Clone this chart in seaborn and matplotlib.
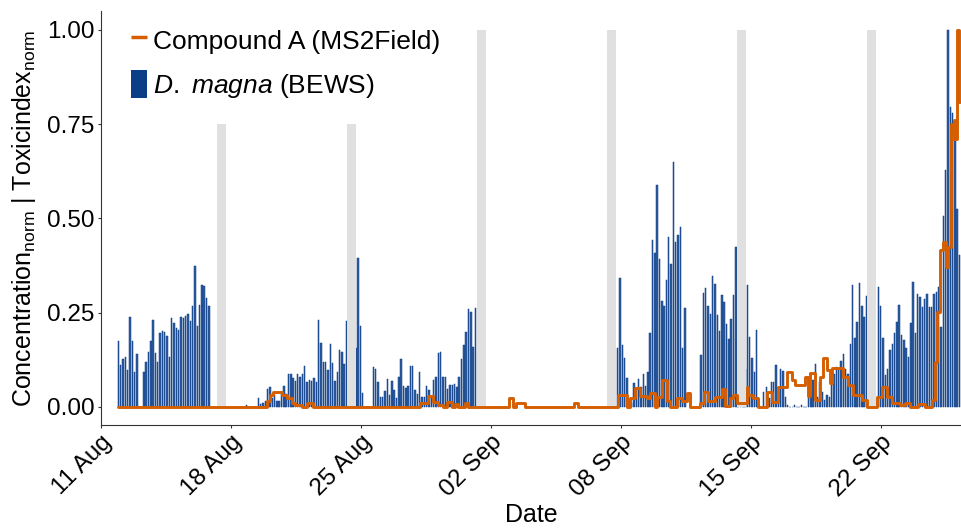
import numpy as np
import pandas as pd
import matplotlib
matplotlib.use("Agg")
import matplotlib.pyplot as plt
import seaborn as sns
from matplotlib.lines import Line2D
from matplotlib.patches import Patch

# ---------------- data (days since 11 Aug 00:00) ----------------
bar_step = 0.125  # 3-hourly BEWS toxicity index

segA_start = 0.948
segA_values = [0.174, 0.112, 0.127, 0.132, 0.098, 0.239, 0.174, 0.092, 0.140, 0, 0, 0.092, 0.120, 0.147,
               0.176, 0.231, 0.143, 0.118, 0.196, 0.202, 0.199, 0.187, 0.132, 0.235, 0.223, 0.209, 0.205,
               0.240, 0.236, 0.242, 0.246, 0.227, 0.269, 0.375, 0.215, 0.271, 0.324, 0.320, 0.289, 0.269]

segB_start = 7.862
segB_values = [0.005, 0, 0, 0, 0, 0.023, 0.007, 0.010, 0.016, 0.047, 0.054, 0.025, 0.032, 0.016, 0.016,
               0.038, 0.056, 0.034, 0.087, 0.087, 0.078, 0.070, 0.087, 0.080, 0.087, 0.109, 0.066, 0.071,
               0.069, 0.078, 0.066, 0.231, 0.169, 0.119, 0.119, 0.097, 0.167, 0.116, 0.069, 0.094, 0.150,
               0.145, 0.113, 0.229, 0, 0, 0, 0.156, 0.395, 0.215, 0.036]

segC_start = 14.680
segC_values = [0.107, 0.100, 0.066, 0.027, 0.027, 0.043, 0.073, 0.032, 0.070, 0.044, 0.024, 0.080, 0.128,
               0.056, 0.050, 0.056, 0.110, 0.110, 0.044, 0.034, 0.094, 0.027, 0.027, 0.056, 0.044, 0.027,
               0.071, 0.080, 0.143, 0.146, 0.080, 0.080, 0.048, 0.059, 0.057, 0.061, 0.053, 0.080, 0.128,
               0.164, 0.198, 0.260, 0.253, 0.160, 0.262]

segD1_start = 27.841
segD1_values = [0.156, 0.342, 0.165, 0.131, 0.078, 0.020, 0.010, 0.063, 0.045, 0.074, 0.054, 0.087, 0.056,
                0.093, 0.196, 0.444, 0.409, 0.588, 0.393, 0.280, 0.269, 0.338, 0.451, 0.380, 0.650, 0.437,
                0.457, 0.478, 0.156, 0.262]

segD2_start = 32.326
segD2_values = [0.138, 0.302, 0.316, 0.267, 0.246, 0.347, 0.326, 0.243, 0.202, 0.296, 0.278, 0.221, 0.181,
                0.233, 0.298, 0.425, 0, 0, 0, 0.100, 0.324, 0.185, 0.129, 0.094, 0.205, 0, 0, 0.041]

segE_start = 35.864
segE_values = [0.052, 0.023, 0.067, 0.067, 0.111, 0.041, 0.100, 0.095, 0.026, 0.005, 0, 0, 0.005, 0, 0,
               0.005, 0, 0, 0.026, 0.040, 0.071, 0.114, 0.026, 0.067, 0.040, 0.018, 0.031, 0.027, 0.082,
               0.088, 0.107, 0.102, 0.122, 0.141, 0.102, 0.088, 0.166, 0.324, 0.182, 0.226, 0.328, 0.268,
               0.240, 0.294]

segF_start = 41.874
segF_values = [0.319, 0.268, 0.182, 0.085, 0.100, 0.150, 0.166, 0.196, 0.226, 0.270, 0.191, 0.178, 0.156,
               0.133, 0.224, 0.332, 0.195, 0.300, 0.293, 0.266, 0.286, 0.300, 0.264, 0.264, 0.300, 0.305,
               0.319, 0.213, 0.507, 0.629, 1.000, 0.797, 0.779, 0.735, 0.524, 0.403]

compound_day = [0.932, 8.939, 9.117, 9.295, 9.747, 10.016, 10.285, 10.463, 10.824, 11.093, 11.449,
                17.194, 17.641, 17.910, 18.164, 18.433, 18.632, 18.901, 19.079, 19.257, 19.618, 19.795,
                22.003, 22.219, 22.364, 22.849, 25.503, 25.719, 27.873, 28.325, 28.503, 28.772, 29.042,
                29.402, 29.580, 29.849, 29.941, 30.242, 30.479, 30.657, 31.018, 31.287, 31.589, 31.734,
                32.273, 32.488, 32.720, 33.080, 33.441, 33.619, 33.888, 34.066, 34.281, 34.787, 34.873,
                35.143, 35.412, 35.864, 36.134, 36.489, 36.941, 37.211, 37.388, 37.927, 38.105, 38.196,
                38.465, 38.734, 38.912, 39.095, 39.273, 39.365, 39.989, 40.258, 40.528, 40.980, 41.249,
                41.788, 42.057, 42.326, 42.596, 43.043, 43.312, 43.581, 44.012, 44.389, 44.749, 44.927,
                45.051, 45.196, 45.374, 45.520, 45.643, 45.773, 45.869, 45.951, 46.031, 46.096, 46.220,
                46.290]
compound_value = [0, 0.016, 0.032, 0.041, 0.032, 0.023, 0.010, 0.004, 0, 0.010, 0,
                  0.010, 0.029, 0.012, 0.005, 0, 0.012, 0, 0.008, 0, 0.010, 0,
                  0.023, 0, 0.010, 0, 0.010, 0, 0.032, 0, 0.023, 0.050, 0.030,
                  0.023, 0.036, 0, 0.027, 0.072, 0.015, 0, 0.025, 0.015, 0.036, 0,
                  0.010, 0.041, 0.015, 0.027, 0.047, 0.003, 0.023, 0.032, 0.010, 0.054, 0.032,
                  0.023, 0, 0.041, 0.014, 0.054, 0.094, 0.072, 0.057, 0.080, 0.030, 0.089,
                  0.019, 0.080, 0.129, 0.098, 0.063, 0.103, 0.080, 0.058, 0.032, 0.019, 0,
                  0.027, 0.054, 0.027, 0.010, 0.004, 0.010, 0, 0.008, 0, 0.019, 0.120,
                  0.253, 0.416, 0.438, 0.372, 0.425, 0.750, 0.710, 0.760, 0.710, 1.000, 0.810,
                  0.810]

band_center_day = [6.5, 13.5, 20.5, 27.5, 34.5, 41.5]
band_height = [0.75, 0.75, 1.0, 1.0, 1.0, 1.0]
band_width_day = 0.5

tick_days = [0, 7, 14, 21, 28, 35, 42]
tick_labels = ["11 Aug", "18 Aug", "25 Aug", "02 Sep", "08 Sep", "15 Sep", "22 Sep"]
y_ticks = [0.0, 0.25, 0.5, 0.75, 1.0]

# ---------------- build tables ----------------
segments = [(segA_start, segA_values), (segB_start, segB_values), (segC_start, segC_values),
            (segD1_start, segD1_values), (segD2_start, segD2_values), (segE_start, segE_values),
            (segF_start, segF_values)]
bews = pd.concat([pd.DataFrame({"day": s + bar_step * np.arange(len(v)), "tox": v}) for s, v in segments],
                 ignore_index=True)
comp = pd.DataFrame({"day": compound_day, "conc": compound_value})

# ---------------- style ----------------
sns.set_theme(style="white")
plt.rcParams["font.family"] = ["Liberation Sans", "DejaVu Sans"]
plt.rcParams["text.color"] = "black"
plt.rcParams["mathtext.fontset"] = "custom"
plt.rcParams["mathtext.rm"] = "Liberation Sans"
plt.rcParams["mathtext.it"] = "Liberation Sans:italic"
plt.rcParams["mathtext.default"] = "regular"

ORANGE = "#D55E00"
BLUE_FILL = "#2f5d9f"
BLUE_EDGE = "#0b3c86"
BAND = "#e0e0e0"
SPINE = "#333333"

W, H = 961, 528
fig = plt.figure(figsize=(W / 100, H / 100), dpi=100)
left, right, bottom, top = 100.7, 961, 425, 11
ax = fig.add_axes([left / W, 1 - bottom / H, (right - left) / W, (bottom - top) / H])

ax.bar(bews["day"], bews["tox"], width=0.078, color=BLUE_FILL, edgecolor=BLUE_EDGE, linewidth=0.35, zorder=2)
ax.bar(band_center_day, band_height, width=band_width_day, color=BAND, linewidth=0, zorder=3)
sns.lineplot(data=comp, x="day", y="conc", ax=ax, color=ORANGE, linewidth=2.1, drawstyle="steps-post",
             estimator=None, legend=False, zorder=4)

ax.set_xlim(0, (right - left) / 18.57)
ax.set_ylim(-0.0478, 1.0504)
ax.set_xticks(tick_days)
ax.set_xticklabels(tick_labels, rotation=45, ha="right", va="top", rotation_mode="anchor")
ax.set_yticks(y_ticks)
ax.set_yticklabels([f"{v:.2f}" for v in y_ticks])

for s in ["top", "right"]:
    ax.spines[s].set_visible(False)
for s in ["left", "bottom"]:
    ax.spines[s].set_color(SPINE)
    ax.spines[s].set_linewidth(0.8)
ax.tick_params(axis="both", direction="out", length=2.5, width=0.8, color=SPINE, pad=2,
               labelsize=17.5, labelcolor="black", bottom=True, left=True)

ax.set_xlabel("Date", fontsize=18, color="black", labelpad=1)
ax.set_ylabel(r"Concentration$_{\mathrm{norm}}$ | Toxicindex$_{\mathrm{norm}}$", fontsize=18, color="black",
              labelpad=6)

handles = [Line2D([0], [0], color=ORANGE, linewidth=2.5, solid_capstyle="butt"),
           Patch(facecolor="#0a3f87", edgecolor="none")]
labels = ["Compound A (MS2Field)", r"$\mathit{D.}$ $\mathit{magna}$ (BEWS)"]
ax.legend(handles, labels, loc="upper left", bbox_to_anchor=(131 / W, 1 - 26 / H), bbox_transform=fig.transFigure,
          frameon=False, fontsize=19, handlelength=0.6, handleheight=1.25, handletextpad=0.25,
          labelspacing=0.62, borderpad=0, borderaxespad=0, labelcolor="black")

fig.savefig("out.png", dpi=100)
